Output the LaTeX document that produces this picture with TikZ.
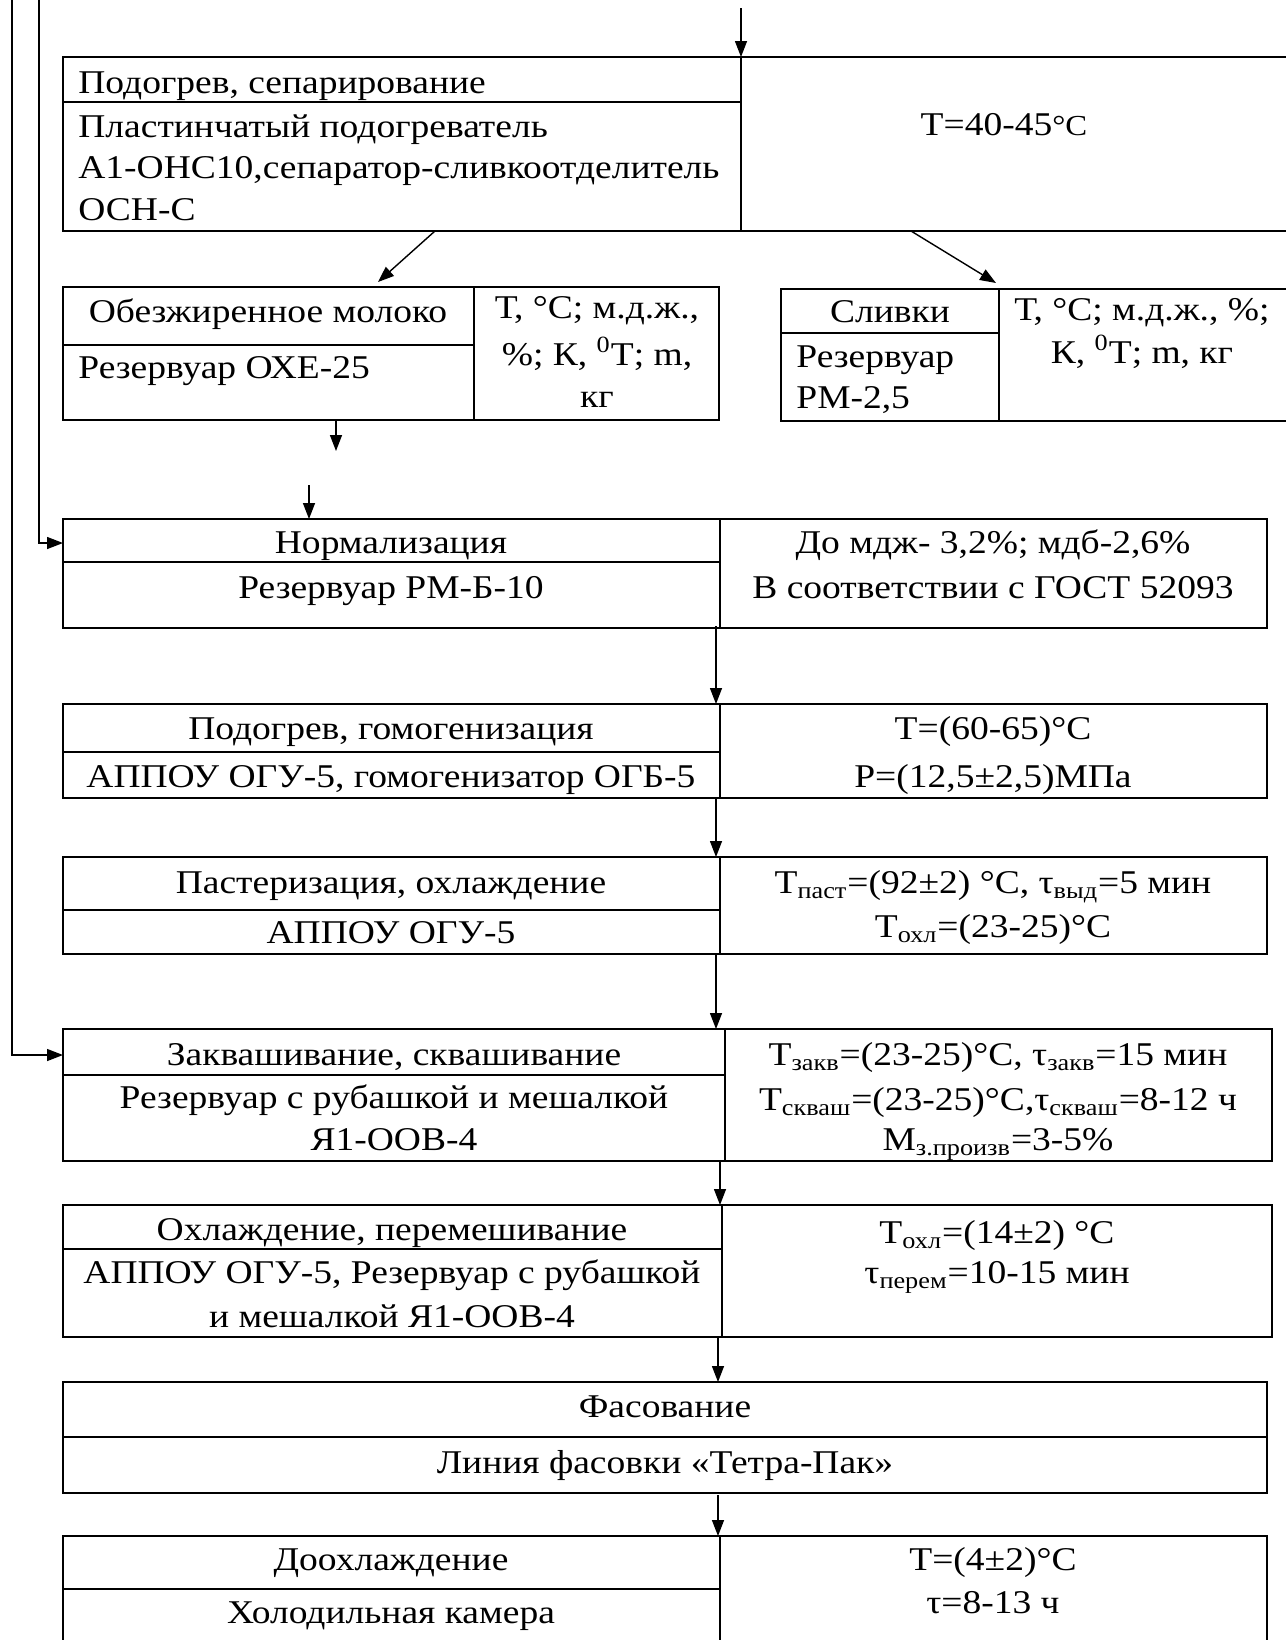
\documentclass[tikz,border=0pt]{standalone}
\usepackage{fontspec}
\setmainfont{Liberation Serif}[FakeStretch=1.13]
\usetikzlibrary{arrows.meta}

\begin{document}
\begin{tikzpicture}[x=0.5pt,y=-0.5pt,
  frame/.style={line width=1.3pt},
  divl/.style={line width=0.7pt},
  arr/.style={line width=0.7pt,-{Triangle[length=8pt,width=6pt]}},
  lbl/.style={inner sep=0pt,anchor=base,font=\fontsize{16.6}{19}\selectfont},
  lbll/.style={lbl,anchor=base west}]
\clip (0,0) rectangle (1286,1640);

% Подогрев, сепарирование
\draw[frame] (63,57) rectangle (1290,231);
\draw[frame] (63,102) -- (741,102);
\draw[divl] (741,57) coordinate (sepIn) -- (741,231);
\node[lbll] (sepA) at (78,93) {Подогрев, сепарирование};
\node[lbll] (sepB) at (78,137) {Пластинчатый подогреватель};
\node[lbll] (sepC) at (78,178) {А1-ОНС10,сепаратор-сливкоотделитель};
\node[lbll] (sepD) at (78,220) {ОСН-С};
\node[lbl] (sepT) at (1004,135) {Т=40-45{\fontsize{14.5}{16}\selectfont°С}};
\coordinate (sepL) at (435,231);
\coordinate (sepR) at (911,231);

% Обезжиренное молоко
\draw[frame] (63,287) rectangle (719,420);
\draw[frame] (63,345) -- (474,345);
\draw[divl] (474,287) -- (474,420);
\node[lbl] (skimA) at (268,322) {Обезжиренное молоко};
\node[lbll] (skimB) at (78,378) {Резервуар ОХЕ-25};
\node[lbl] (skimC) at (597,318) {Т, °С; м.д.ж.,};
\node[lbl] (skimD) at (597,365) {\%; К, \textsuperscript{0}Т; m,};
\node[lbl] (skimE) at (597,407) {кг};
\coordinate (skimIn) at (378,282);
\coordinate (skimOut) at (336,420);
\coordinate (skimEnd) at (336,451);

% Сливки
\draw[frame] (781,289) rectangle (1290,421);
\draw[frame] (781,333) -- (999,333);
\draw[divl] (999,289) -- (999,421);
\node[lbl] (creamA) at (890,322) {Сливки};
\node[lbll] (creamB) at (796,367) {Резервуар};
\node[lbll] (creamC) at (796,408) {РМ-2,5};
\node[lbl] (creamD) at (1142,320) {Т, °С; м.д.ж., \%;};
\node[lbl] (creamE) at (1142,363) {К, \textsuperscript{0}Т; m, кг};
\coordinate (creamIn) at (996,283);

% Нормализация
\draw[frame] (63,519) rectangle (1267,628);
\draw[frame] (63,562) -- (720,562);
\draw[divl] (720,519) -- (720,628);
\node[lbl] (normA) at (391,553) {Нормализация};
\node[lbl] (normB) at (391,598) {Резервуар РМ-Б-10};
\node[lbl] (normC) at (993,553) {До мдж- 3,2\%; мдб-2,6\%};
\node[lbl] (normD) at (993,598) {В соответствии с ГОСТ 52093};
\coordinate (normFrom) at (309,485);
\coordinate (normIn) at (309,519);
\coordinate (normL) at (63,543);
\coordinate (normOut) at (716,626);

% Подогрев, гомогенизация
\draw[frame] (63,704) rectangle (1267,798);
\draw[frame] (63,752) -- (720,752);
\draw[divl] (720,704) -- (720,798);
\node[lbl] (gomoA) at (391,739) {Подогрев, гомогенизация};
\node[lbl] (gomoB) at (391,787) {АППОУ ОГУ-5, гомогенизатор ОГБ-5};
\node[lbl] (gomoC) at (993,739) {Т=(60-65)°С};
\node[lbl] (gomoD) at (993,787) {Р=(12,5±2,5)МПа};
\coordinate (gomoIn) at (716,704);
\coordinate (gomoOut) at (716,798);

% Пастеризация, охлаждение
\draw[frame] (63,857) rectangle (1267,954);
\draw[frame] (63,910) -- (720,910);
\draw[divl] (720,857) -- (720,954);
\node[lbl] (pastA) at (391,893) {Пастеризация, охлаждение};
\node[lbl] (pastB) at (391,943) {АППОУ ОГУ-5};
\node[lbl] (pastC) at (993,893) {Т\textsubscript{паст}=(92±2) °С, τ\textsubscript{выд}=5 мин};
\node[lbl] (pastD) at (993,937) {Т\textsubscript{охл}=(23-25)°С};
\coordinate (pastIn) at (716,857);
\coordinate (pastOut) at (716,954);

% Заквашивание, сквашивание
\draw[frame] (63,1029) rectangle (1272,1161);
\draw[frame] (63,1075) -- (725,1075);
\draw[divl] (725,1029) -- (725,1161);
\node[lbl] (zakvA) at (394,1065) {Заквашивание, сквашивание};
\node[lbl] (zakvB) at (394,1108) {Резервуар с рубашкой и мешалкой};
\node[lbl] (zakvC) at (394,1150) {Я1-ООВ-4};
\node[lbl] (zakvD) at (998,1065) {Т\textsubscript{закв}=(23-25)°С, τ\textsubscript{закв}=15 мин};
\node[lbl] (zakvE) at (998,1110) {Т\textsubscript{скваш}=(23-25)°С,τ\textsubscript{скваш}=8-12 ч};
\node[lbl] (zakvF) at (998,1150) {М\textsubscript{з.произв}=3-5\%};
\coordinate (zakvIn) at (716,1029);
\coordinate (zakvL) at (63,1055);
\coordinate (zakvOut) at (720,1161);

% Охлаждение, перемешивание
\draw[frame] (63,1205) rectangle (1272,1337);
\draw[frame] (63,1249) -- (722,1249);
\draw[divl] (722,1205) -- (722,1337);
\node[lbl] (ohlA) at (392,1240) {Охлаждение, перемешивание};
\node[lbl] (ohlB) at (392,1283) {АППОУ ОГУ-5, Резервуар с рубашкой};
\node[lbl] (ohlC) at (392,1327) {и мешалкой Я1-ООВ-4};
\node[lbl] (ohlD) at (997,1243) {Т\textsubscript{охл}=(14±2) °С};
\node[lbl] (ohlE) at (997,1283) {τ\textsubscript{перем}=10-15 мин};
\coordinate (ohlIn) at (720,1205);
\coordinate (ohlOut) at (718,1337);

% Фасование
\draw[frame] (63,1382) rectangle (1267,1493);
\draw[frame] (63,1437) -- (1267,1437);
\node[lbl] (fasA) at (665,1417) {Фасование};
\node[lbl] (fasB) at (665,1473) {Линия фасовки «Тетра-Пак»};
\coordinate (fasIn) at (718,1382);
\coordinate (fasOut) at (718,1495);

% Доохлаждение
\draw[frame] (63,1536) rectangle (1267,1650);
\draw[frame] (63,1589) -- (720,1589);
\draw[divl] (720,1536) -- (720,1650);
\node[lbl] (doA) at (391,1570) {Доохлаждение};
\node[lbl] (doB) at (391,1623) {Холодильная камера};
\node[lbl] (doC) at (993,1570) {Т=(4±2)°С};
\node[lbl] (doD) at (993,1613) {τ=8-13 ч};
\coordinate (doIn) at (718,1536);

% стрелки
\coordinate (start) at (741,8);
\coordinate (fbA) at (39,0);
\coordinate (fbB) at (12,0);
\draw[arr] (start) -- (sepIn);
\draw[arr] (sepL) -- (skimIn);
\draw[arr] (sepR) -- (creamIn);
\draw[arr] (skimOut) -- (skimEnd);
\draw[arr] (normFrom) -- (normIn);
\draw[arr] (fbA) |- (normL);
\draw[arr] (fbB) |- (zakvL);
\draw[arr] (normOut) -- (gomoIn);
\draw[arr] (gomoOut) -- (pastIn);
\draw[arr] (pastOut) -- (zakvIn);
\draw[arr] (zakvOut) -- (ohlIn);
\draw[arr] (ohlOut) -- (fasIn);
\draw[arr] (fasOut) -- (doIn);
\end{tikzpicture}
\end{document}
